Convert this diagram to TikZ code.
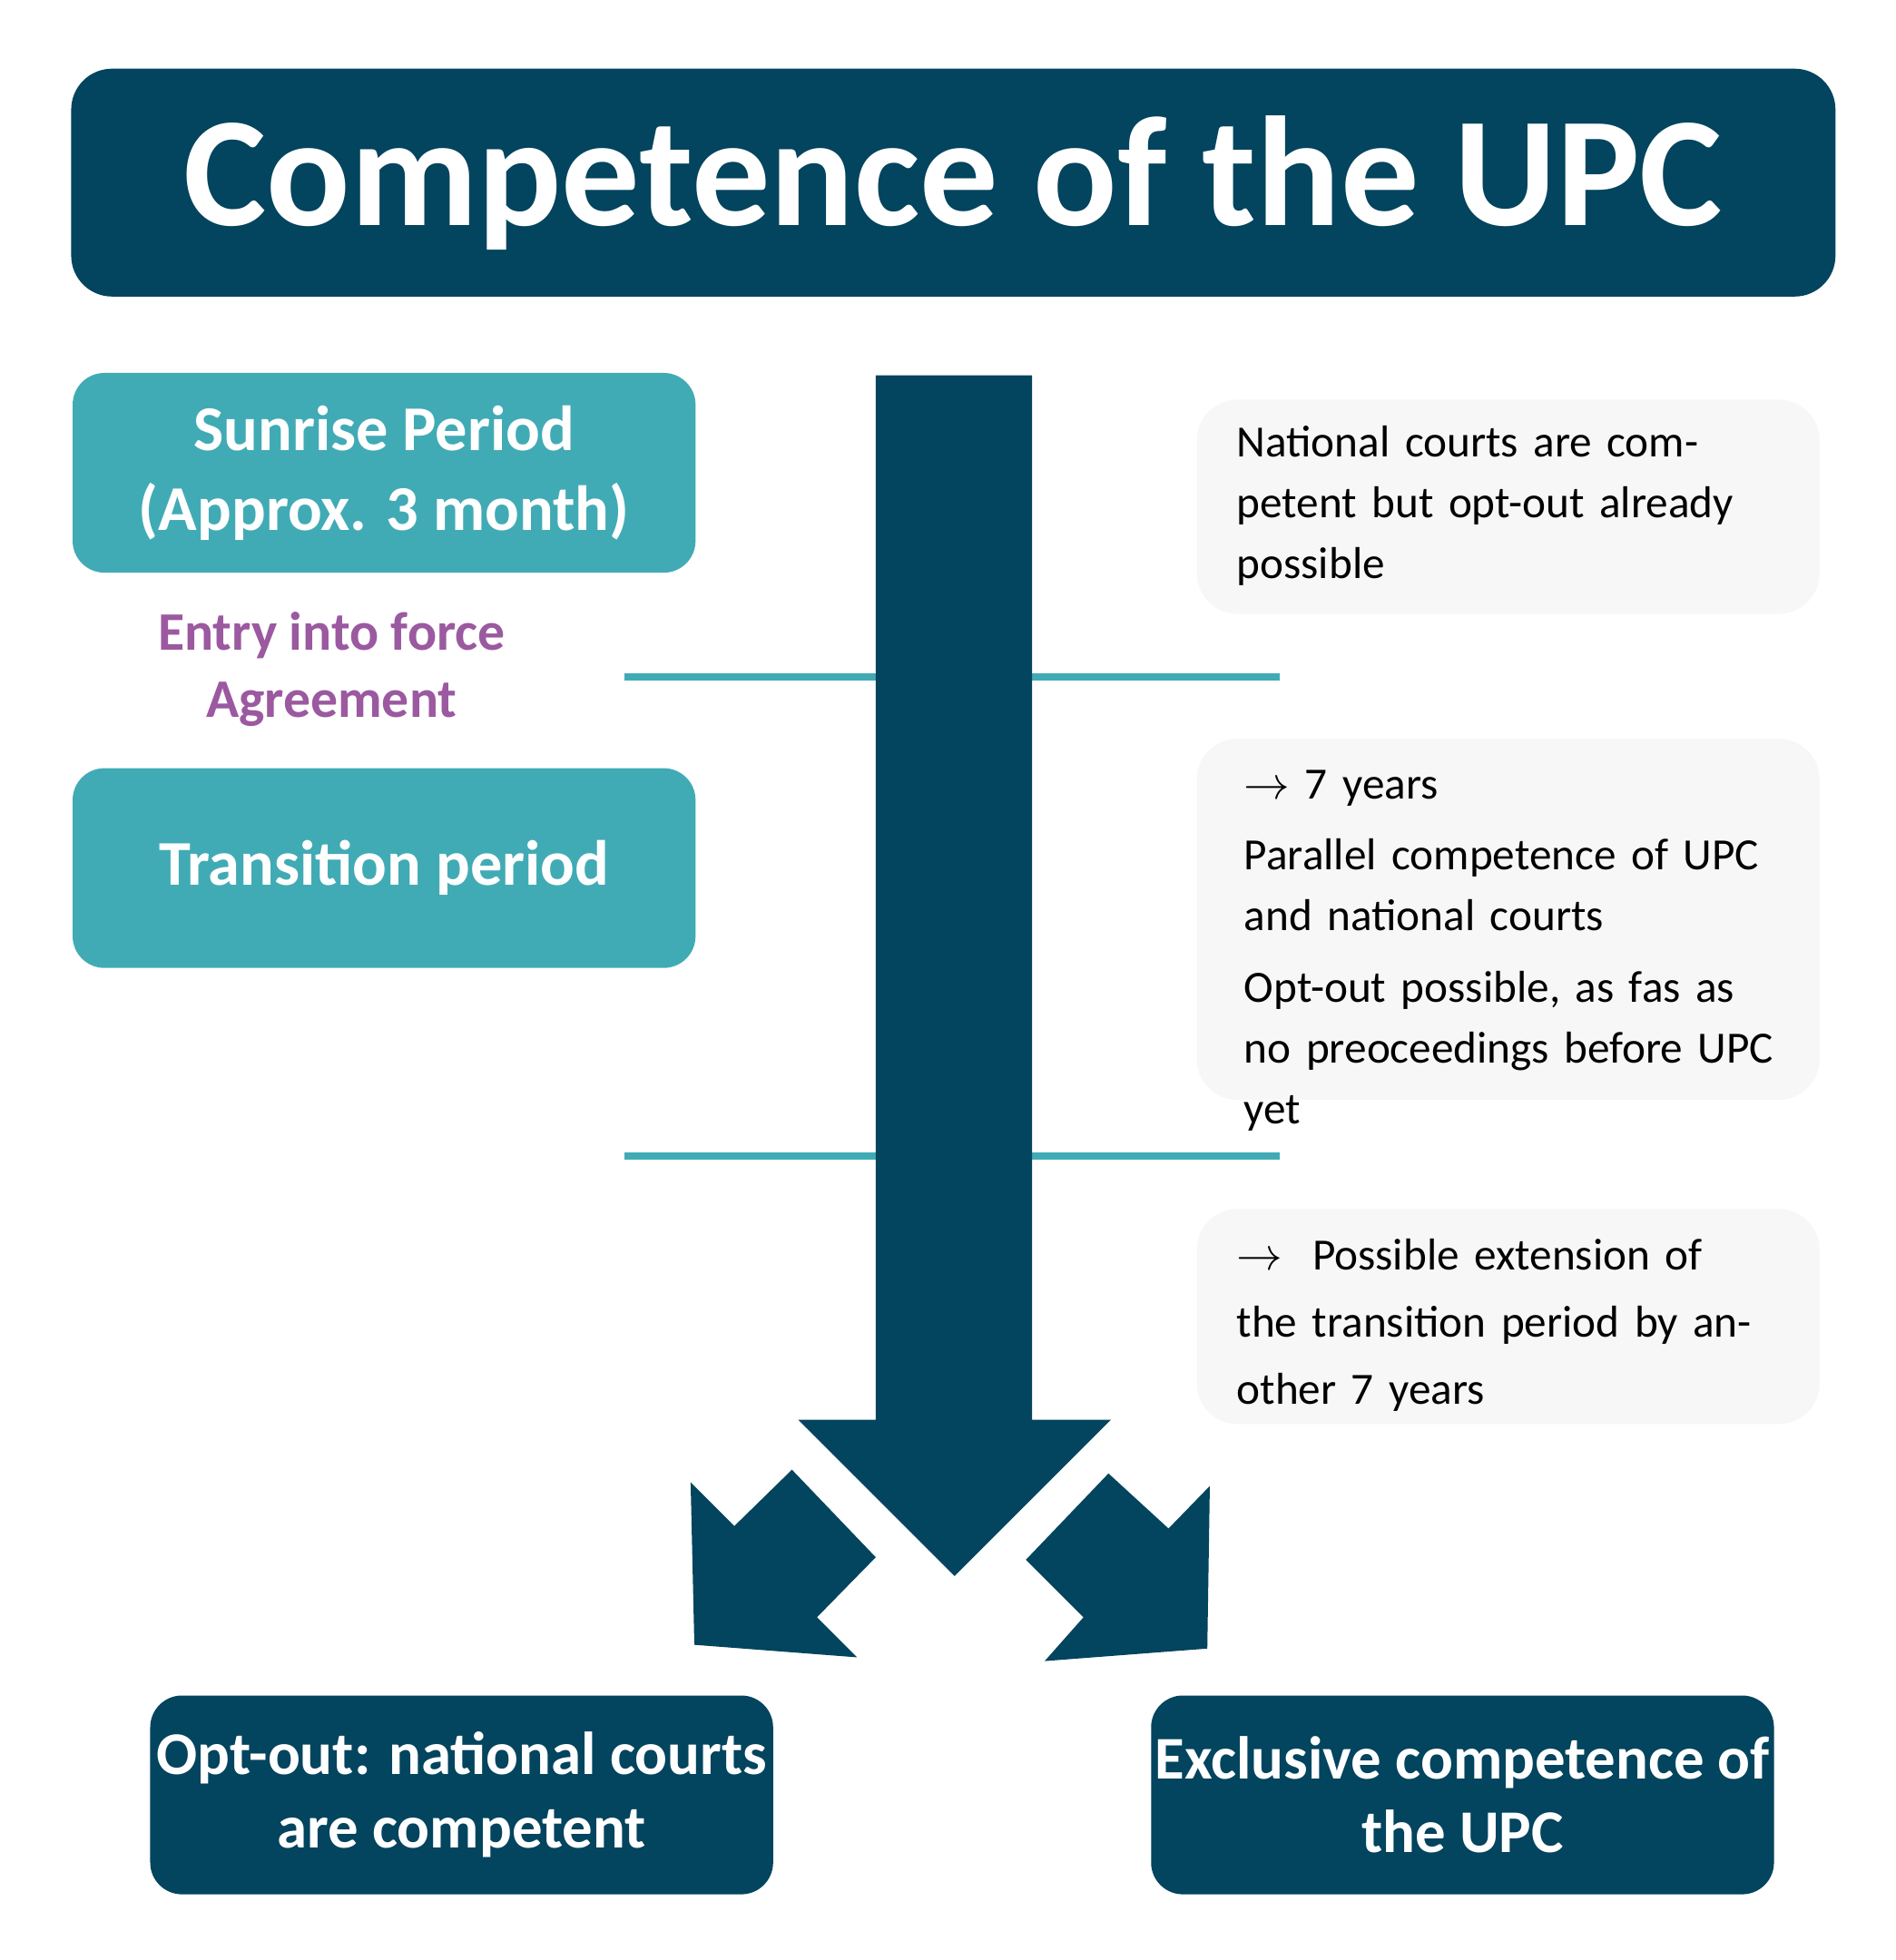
\documentclass[tikz,border=0pt]{standalone}
\usepackage{fontspec}
\setmainfont{Carlito}
\usetikzlibrary{positioning}
\definecolor{upcnavy}{HTML}{03445E}
\definecolor{upcteal}{HTML}{41ABB5}
\definecolor{upcpurple}{HTML}{9B59A0}
\definecolor{upcgray}{HTML}{F7F7F7}
\tikzset{basic box/.style={rectangle,rounded corners=0.35cm,inner sep=0pt,align=center}}
\tikzset{period box/.style={basic box,fill=upcteal,text=white,font=\bfseries\fontsize{20}{25}\selectfont,
                            minimum width=6.86cm,minimum height=2.2cm}}
\tikzset{result box/.style={basic box,fill=upcnavy,text=white,font=\bfseries\fontsize{19}{23}\selectfont,
                            minimum width=6.86cm,minimum height=2.19cm}}
\tikzset{note box/.style={basic box,rounded corners=0.45cm,fill=upcgray,minimum width=6.86cm,anchor=north west}}
\tikzset{note text/.style={anchor=north west,inner sep=0pt,text width=5.9cm,align=left,font=\fontsize{14}{19}\selectfont}}
\tikzset{mark line/.style={draw=upcteal,line width=0.083cm}}
\tikzset{flow/.style={fill=upcnavy}}
\begin{document}
\begin{tikzpicture}[x=0.01378cm,y=-0.01378cm]
  \useasboundingbox (0,0) rectangle (1515,1567);

  % title
  \node [basic box,rounded corners=0.45cm,fill=upcnavy,text=white,font=\bfseries\fontsize{49}{55}\selectfont,
         minimum width=19.43cm,minimum height=2.51cm] (title) at (762,146) {Competence of the UPC};

  % periods
  \node [period box] (sunrise) at (307,378) {Sunrise Period\\(Approx. 3 month)};
  \node [font=\bfseries\fontsize{17}{21}\selectfont,text=upcpurple,align=center] (entry) at (265,535) {Entry into force\\Agreement};
  \node [period box] (transition) at (307,694) {Transition period};

  % time marks
  \coordinate (m1a) at (499,541);
  \coordinate (m1b) at (1023,541);
  \coordinate (m2a) at (499,924);
  \coordinate (m2b) at (1023,924);
  \path [mark line] (m1a) -- (m1b);
  \path [mark line] (m2a) -- (m2b);

  % arrows
  \fill [flow] (700,300) -- (825,300) -- (825,1135) -- (888,1135) -- (763,1260)
               -- (638,1135) -- (700,1135) -- cycle;
  \fill [flow] (552,1185) -- (587,1220) -- (633,1175) -- (700,1245) -- (653,1293)
               -- (685,1325) -- (555,1315) -- cycle;
  \fill [flow] (967,1188) -- (934,1222) -- (886,1178) -- (820,1247) -- (866,1293)
               -- (835,1328) -- (965,1318) -- cycle;

  % notes
  \node [note box,minimum height=2.36cm] (note1) at (956,319) {};
  \node [note text] (text1) at (988,340) {National courts are competent but opt-out already possible};
  \node [note box,minimum height=3.98cm] (note2) at (956,590) {};
  \node [note text] (text2) at (994,615) {$\rightarrow$ 7 years\\[0.12cm]
         Parallel competence of UPC and national courts\\[0.12cm]
         Opt-out possible, as fas as no preoceedings before UPC yet};
  \node [note box,minimum height=2.37cm] (note3) at (956,966) {};
  \node [note text,font=\fontsize{14}{21}\selectfont] (text3) at (988,990)
        {$\rightarrow$\ \ Possible extension of the transition period by another 7 years};

  % results
  \node [result box] (optout) at (369,1435) {Opt-out: national courts\\are competent};
  \node [result box] (exclusive) at (1169,1435) {Exclusive competence of\\the UPC};
\end{tikzpicture}
\end{document}
